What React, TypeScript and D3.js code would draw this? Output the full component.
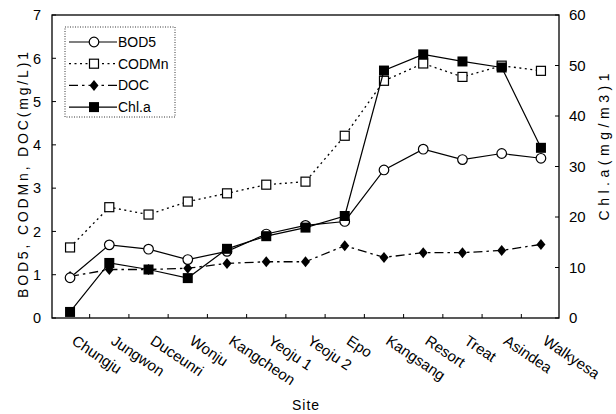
import React from "react";
import * as d3 from "d3";

const sites = ["Chungju", "Jungwon", "Duceunri", "Wonju", "Kangcheon", "Yeoju 1", "Yeoju 2", "Epo", "Kangsang", "Resort", "Treat", "Asindea", "Walkyesa"];
const bod5 = [0.93, 1.69, 1.59, 1.35, 1.54, 1.94, 2.14, 2.23, 3.42, 3.9, 3.66, 3.8, 3.69];
const codmn = [1.63, 2.56, 2.39, 2.69, 2.88, 3.08, 3.15, 4.21, 5.48, 5.88, 5.57, 5.83, 5.71];
const doc = [0.96, 1.12, 1.12, 1.15, 1.26, 1.3, 1.3, 1.67, 1.4, 1.51, 1.51, 1.56, 1.7];
const chla = [1.2, 10.9, 9.6, 7.9, 13.7, 16.2, 17.9, 20.2, 49.0, 52.2, 50.8, 49.6, 33.7];
const leftTicks = [0, 1, 2, 3, 4, 5, 6, 7];
const rightTicks = [0, 10, 20, 30, 40, 50, 60];

const W = 616, H = 414;
const X0 = 52, X1 = 559, YT = 15, YB = 318;
const FONT = "'Liberation Sans', Arial, Helvetica, sans-serif";

type Marker = "circle" | "square" | "diamond" | "fsquare";

function MarkerShape({ kind, x, y }: { kind: Marker; x: number; y: number }) {
  if (kind === "circle") return <circle cx={x} cy={y} r={4.8} fill="#fff" stroke="#000" strokeWidth={1.2} />;
  if (kind === "square") return <rect x={x - 4.5} y={y - 4.5} width={9} height={9} fill="#fff" stroke="#000" strokeWidth={1.2} />;
  if (kind === "fsquare") return <rect x={x - 5} y={y - 5} width={10} height={10} fill="#000" />;
  return <path d={`M${x},${y - 5.5}L${x + 4.5},${y}L${x},${y + 5.5}L${x - 4.5},${y}Z`} fill="#000" />;
}

export default function App() {
  const x = d3.scalePoint<string>().domain(sites).range([X0, X1]).padding(0.46);
  const yL = d3.scaleLinear().domain([0, 7]).range([YB, YT]);
  const yR = d3.scaleLinear().domain([0, 60]).range([YB, YT]);
  const step = x.step();

  const series: { name: string; data: number[]; scale: d3.ScaleLinear<number, number>; dash?: string; marker: Marker; width: number }[] = [
    { name: "CODMn", data: codmn, scale: yL, dash: "2,3.5", marker: "square", width: 1.3 },
    { name: "DOC", data: doc, scale: yL, dash: "9,4,2.5,4", marker: "diamond", width: 1.3 },
    { name: "BOD5", data: bod5, scale: yL, marker: "circle", width: 1.2 },
    { name: "Chl.a", data: chla, scale: yR, marker: "fsquare", width: 1.2 },
  ];
  const legendOrder = ["BOD5", "CODMn", "DOC", "Chl.a"];

  const line = (data: number[], s: d3.ScaleLinear<number, number>) =>
    d3.line<number>().x((_, i) => x(sites[i])!).y((v) => s(v))(data) || "";

  return (
    <svg width={W} height={H} style={{ position: "absolute", left: 0, top: 0, background: "#fff" }} fontFamily={FONT}>
      <rect width={W} height={H} fill="#fff" />
      {/* frame */}
      <rect x={X0} y={YT} width={X1 - X0} height={YB - YT} fill="none" stroke="#000" strokeWidth={1.3} />
      {/* x ticks between sites */}
      {sites.slice(1).map((s, i) => {
        const tx = x(s)! - step / 2;
        return <line key={"xt" + i} x1={tx} x2={tx} y1={YB} y2={YB - 4} stroke="#000" />;
      })}
      {/* left axis */}
      {leftTicks.map((t) => (
        <g key={"l" + t}>
          <line x1={X0} x2={X0 + 4} y1={yL(t)} y2={yL(t)} stroke="#000" />
          <text x={X0 - 11} y={yL(t)} dy="0.36em" textAnchor="end" fontSize={14.5}>{t}</text>
        </g>
      ))}
      {/* right axis */}
      {rightTicks.map((t) => (
        <g key={"r" + t}>
          <line x1={X1} x2={X1 - 4} y1={yR(t)} y2={yR(t)} stroke="#000" />
          <text x={X1 + 10} y={yR(t)} dy="0.36em" textAnchor="start" fontSize={15}>{t}</text>
        </g>
      ))}
      {/* series */}
      {series.map((s) => (
        <g key={s.name}>
          <path d={line(s.data, s.scale)} fill="none" stroke="#000" strokeWidth={s.width} strokeDasharray={s.dash} />
          {s.data.map((v, i) => (
            <MarkerShape key={i} kind={s.marker} x={x(sites[i])!} y={s.scale(v)} />
          ))}
        </g>
      ))}
      {/* legend */}
      <rect x={65} y={27} width={110} height={90} fill="#fff" stroke="#000" strokeWidth={0.8} strokeDasharray="1,1.5" />
      {legendOrder.map((n, i) => {
        const s = series.find((d) => d.name === n)!;
        const ly = 42 + i * 21.7;
        return (
          <g key={"lg" + n}>
            <line x1={69} x2={117} y1={ly} y2={ly} stroke="#000" strokeWidth={s.width} strokeDasharray={s.dash} />
            <MarkerShape kind={s.marker} x={94} y={ly} />
            <text x={118} y={ly} dy="0.36em" fontSize={14}>{n}</text>
          </g>
        );
      })}
      {/* x tick labels */}
      {sites.map((s) => {
        const px = x(s)! + 7;
        const py = 334;
        return (
          <text key={"xl" + s} x={px} y={py} transform={`rotate(34 ${px} ${py})`} fontSize={15} dominantBaseline="hanging">{s}</text>
        );
      })}
      {/* axis titles */}
      <text x={306} y={410} textAnchor="middle" fontSize={14} letterSpacing={1}>Site</text>
      <text transform="translate(28,175) rotate(-90)" textAnchor="middle" fontSize={14} textLength={246} lengthAdjust="spacing">BOD5, CODMn, DOC(mg/L)1</text>
      <text transform="translate(609,147) rotate(-90)" textAnchor="middle" fontSize={14} textLength={147} lengthAdjust="spacing">Chl.a(mg/m3)1</text>
    </svg>
  );
}
